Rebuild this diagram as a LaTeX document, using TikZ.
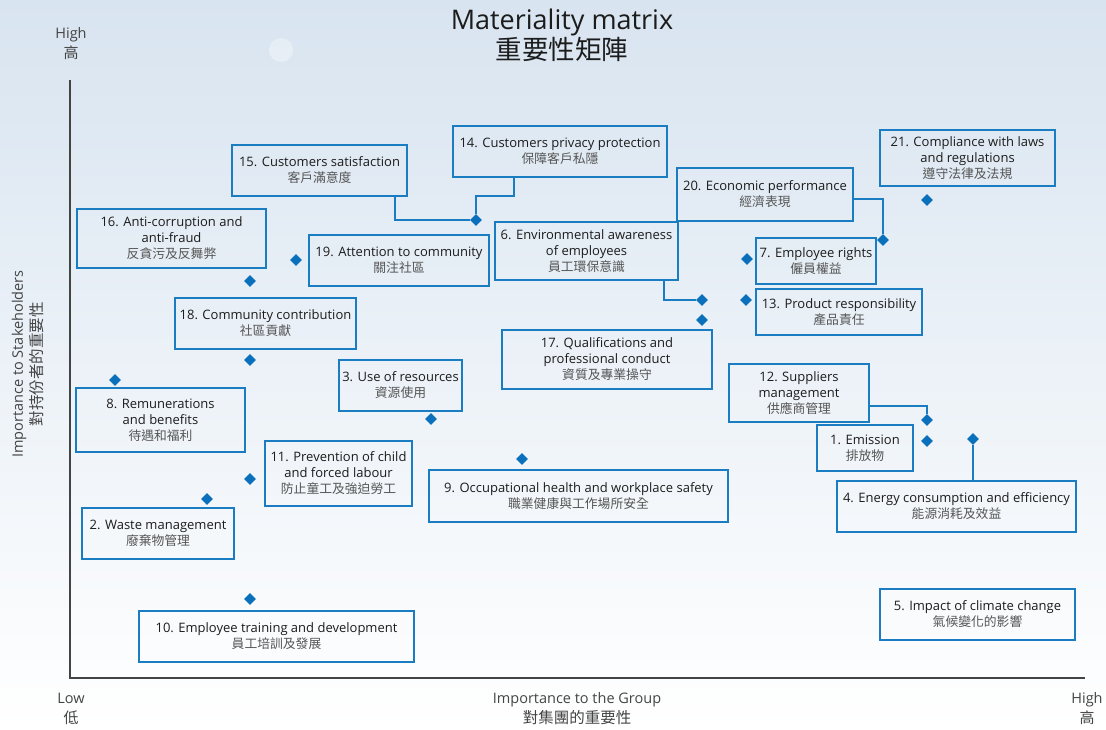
\documentclass[tikz,border=0pt]{standalone}
\usepackage{fontspec}
\setmainfont{Open Sans}
\newfontfamily\cjk{Noto Sans CJK TC}
\usetikzlibrary{shapes.geometric, positioning}

\definecolor{boxblue}{HTML}{1A7DC2}
\definecolor{dotblue}{HTML}{0A70BC}
\definecolor{inktext}{HTML}{1C1C1C}
\definecolor{cjkgrey}{HTML}{555555}
\definecolor{axisgrey}{HTML}{444444}
\definecolor{skytop}{HTML}{D8E4F0}
\definecolor{skymid}{HTML}{EBF1F7}

\newcommand{\zh}[1]{{\cjk\fontsize{12.8}{16}\selectfont\color{cjkgrey}#1}}

\tikzset{
  issue/.style={draw=boxblue, line width=2pt, align=center, inner sep=0pt,
    text=inktext, font=\fontsize{13}{16}\selectfont},
  pt/.style={diamond, fill=dotblue, inner sep=0pt, minimum size=12pt},
  link/.style={draw=boxblue, line width=2pt},
  axislbl/.style={text=axisgrey, align=center, font=\fontsize{14.5}{20}\selectfont},
}

\begin{document}
\begin{tikzpicture}[x=1pt, y=-1pt]
		\useasboundingbox (0,0) rectangle (1106,729);
		\shade[top color=skytop, middle color=skymid, bottom color=white] (0,0) rectangle (1106,729);
		\fill[white, opacity=0.35] (281,50) circle (12);

		% title and axes
		\node[text=inktext, align=center, font=\fontsize{27}{30}\selectfont] (title) at (562,35) {Materiality matrix\\{\cjk\fontsize{26.5}{30}\selectfont 重要性矩陣}};
		\coordinate (top) at (70,80);
		\coordinate (origin) at (70,678);
		\coordinate (right) at (1085,678);
		\draw[axisgrey, line width=1.5pt] (top) -- (origin) -- (right);
		\node[axislbl] (yhigh) at (71,44) {High\\{\cjk\fontsize{15}{20}\selectfont 高}};
		\node[axislbl] (xlow) at (71,709) {Low\\{\cjk\fontsize{15}{20}\selectfont 低}};
		\node[axislbl] (xhigh) at (1087,709) {High\\{\cjk\fontsize{15}{20}\selectfont 高}};
		\node[axislbl] (xname) at (577,709) {Importance to the Group\\{\cjk\fontsize{15.5}{20}\selectfont 對集團的重要性}};
		\node[axislbl, rotate=90] (yname) at (28,364) {Importance to Stakeholders\\{\cjk\fontsize{15.5}{20}\selectfont 對持份者的重要性}};

		% issue boxes
		\node[issue, minimum width=175pt, minimum height=51pt] (satisf) at (319.5,170.5) {15. Customers satisfaction\\\zh{客戶滿意度}};
		\node[issue, minimum width=214pt, minimum height=51pt] (privacy) at (560,151.5) {14. Customers privacy protection\\\zh{保障客戶私隱}};
		\node[issue, minimum width=175pt, minimum height=56pt] (compliance) at (967.5,158) {21. Compliance with laws\\and regulations\\\zh{遵守法律及法規}};
		\node[issue, minimum width=176pt, minimum height=53pt] (econ) at (765,194.5) {20. Economic performance\\\zh{經濟表現}};
		\node[issue, minimum width=189pt, minimum height=59pt] (anticorr) at (171.5,238.5) {16. Anti-corruption and\\anti-fraud\\\zh{反貪污及反舞弊}};
		\node[issue, minimum width=180pt, minimum height=51pt] (commattn) at (399,260.5) {19. Attention to community\\\zh{關注社區}};
		\node[issue, minimum width=183pt, minimum height=58pt] (envaware) at (586.5,251) {6. Environmental awareness\\of employees\\\zh{員工環保意識}};
		\node[issue, minimum width=120pt, minimum height=46pt] (rights) at (816,261) {7. Employee rights\\\zh{僱員權益}};
		\node[issue, minimum width=166pt, minimum height=46pt] (product) at (839,312) {13. Product responsibility\\\zh{產品責任}};
		\node[issue, minimum width=181pt, minimum height=51pt] (commcontrib) at (265.5,323.5) {18. Community contribution\\\zh{社區貢獻}};
		\node[issue, minimum width=210pt, minimum height=59pt] (qualif) at (607,359.5) {17. Qualifications and\\professional conduct\\\zh{資質及專業操守}};
		\node[issue, minimum width=123pt, minimum height=51pt] (resources) at (400.5,385.5) {3. Use of resources\\\zh{資源使用}};
		\node[issue, minimum width=140pt, minimum height=58pt] (suppliers) at (799,393) {12. Suppliers\\management\\\zh{供應商管理}};
		\node[issue, minimum width=169pt, minimum height=64pt] (remun) at (160.5,420) {8. Remunerations\\and benefits\\\zh{待遇和福利}};
		\node[issue, minimum width=96pt, minimum height=46pt] (emission) at (865,448) {1. Emission\\\zh{排放物}};
		\node[issue, minimum width=147pt, minimum height=65pt] (child) at (338.5,473.5) {11. Prevention of child\\and forced labour\\\zh{防止童工及強迫勞工}};
		\node[issue, minimum width=299pt, minimum height=52pt] (ohs) at (578.5,496) {9. Occupational health and workplace safety\\\zh{職業健康與工作場所安全}};
		\node[issue, minimum width=239pt, minimum height=51pt] (energy) at (956.5,506.5) {4. Energy consumption and efficiency\\\zh{能源消耗及效益}};
		\node[issue, minimum width=152pt, minimum height=51pt] (waste) at (158,533.5) {2. Waste management\\\zh{廢棄物管理}};
		\node[issue, minimum width=275pt, minimum height=51pt] (training) at (276.5,636.5) {10. Employee training and development\\\zh{員工培訓及發展}};
		\node[issue, minimum width=195pt, minimum height=51pt] (climate) at (977.5,614.5) {5. Impact of climate change\\\zh{氣候變化的影響}};

		% plotted points
		\node[pt] (p14) at (476,220) {};
		\node[pt] (p21) at (927,200) {};
		\node[pt] (p20) at (883,240) {};
		\node[pt] (p16) at (250,281) {};
		\node[pt] (p19) at (296,260) {};
		\node[pt] (p7) at (747,259) {};
		\node[pt] (p6) at (702,300) {};
		\node[pt] (p13) at (746,300) {};
		\node[pt] (p17) at (702,320) {};
		\node[pt] (p18) at (250,360) {};
		\node[pt] (p8) at (115,380) {};
		\node[pt] (p3) at (431,419) {};
		\node[pt] (p12) at (927,420) {};
		\node[pt] (p1) at (927,441) {};
		\node[pt] (p4) at (973,439) {};
		\node[pt] (p11) at (250,479) {};
		\node[pt] (p9) at (522,459) {};
		\node[pt] (p2) at (207,499) {};
		\node[pt] (p10) at (250,599) {};

		% leader lines
		\draw[link] ([xshift=75.5pt]satisf.south) |- (p14);
		\draw[link] ([xshift=-46pt]privacy.south) -- ++(0,18) -| (p14);
		\draw[link] ([yshift=-4.5pt]econ.east) -| (p20);
		\draw[link] ([xshift=77.5pt]envaware.south) |- (p6);
		\draw[link] ([yshift=-13pt]suppliers.east) -| (p12);
		\draw[link] (p4) -- (p4 |- energy.north);
	\end{tikzpicture}
\end{document}
